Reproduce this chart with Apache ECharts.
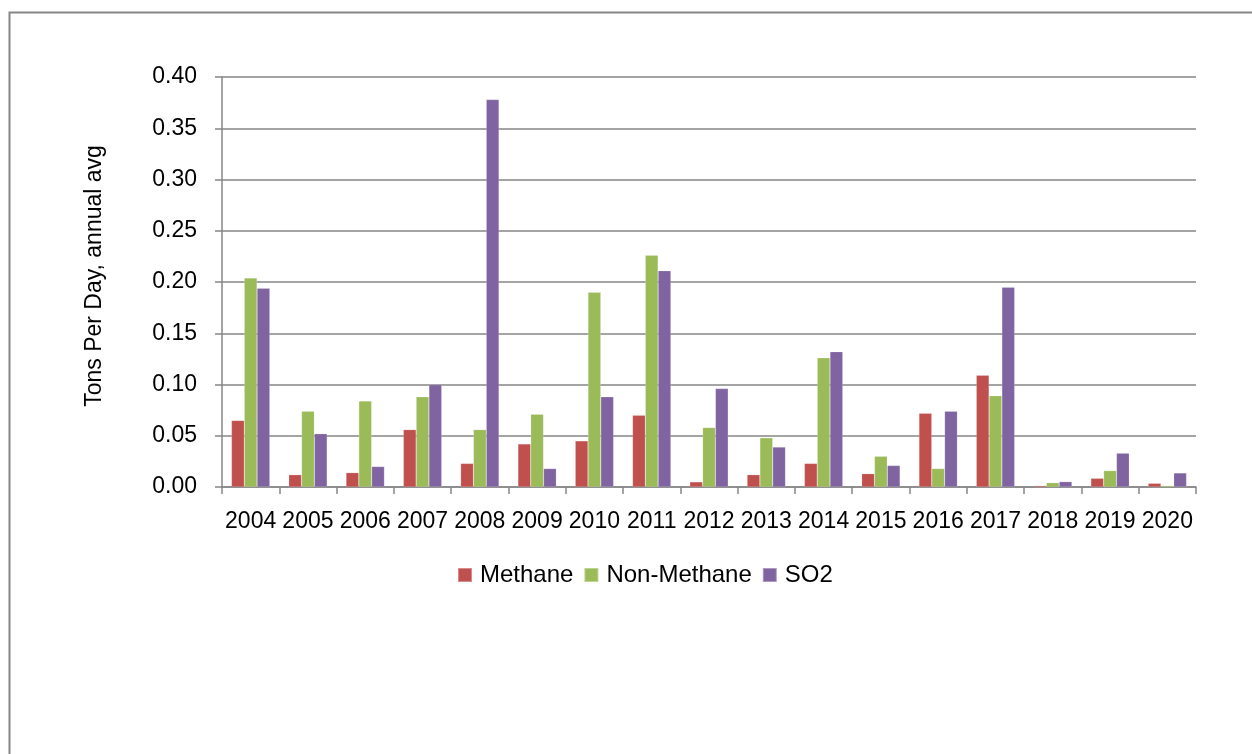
<!DOCTYPE html>
<html>
<head>
<meta charset="utf-8">
<script src="https://cdn.jsdelivr.net/npm/echarts@6/dist/echarts.min.js"></script>
<style>
html,body{margin:0;padding:0;background:#fff;}
#chart{width:1252px;height:754px;}
</style>
</head>
<body>
<div id="chart"></div>
<script>
var years = ['2004','2005','2006','2007','2008','2009','2010','2011','2012','2013','2014','2015','2016','2017','2018','2019','2020'];
var methane    = [0.065, 0.012, 0.014, 0.056, 0.023, 0.042, 0.045, 0.070, 0.005, 0.012, 0.023, 0.013, 0.072, 0.109, 0.0013, 0.0085, 0.0036];
var nonMethane = [0.204, 0.074, 0.084, 0.088, 0.056, 0.071, 0.190, 0.226, 0.058, 0.048, 0.126, 0.030, 0.018, 0.089, 0.0042, 0.016, 0.0013];
var so2        = [0.194, 0.052, 0.020, 0.100, 0.378, 0.018, 0.088, 0.211, 0.096, 0.039, 0.132, 0.021, 0.074, 0.195, 0.0052, 0.033, 0.0137];
var yTicks = ['0.00','0.05','0.10','0.15','0.20','0.25','0.30','0.35','0.40'];

var FONT = 'Liberation Sans';
var chart = echarts.init(document.getElementById('chart'));
function bar(name, data, color){
  return {
    name: name, type: 'bar', data: data,
    barGap: '0%', barCategoryGap: '33%',
    itemStyle: {color: color, borderColor: 'rgba(255,255,255,0.35)', borderWidth: 0.5},
    emphasis: {disabled: true}
  };
}
chart.setOption({
  animation: false,
  backgroundColor: '#fff',
  textStyle: {fontFamily: FONT},
  graphic: [{
    type: 'rect', left: 7, top: 10, silent: true,
    shape: {x: 0, y: 0, width: 1300, height: 800},
    style: {fill: 'none', stroke: '#868686', lineWidth: 2}
  }],
  grid: {left: 222, right: 56, top: 77, bottom: 267, containLabel: false},
  legend: {
    data: ['Methane','Non-Methane','SO2'],
    left: 452, top: 558,
    itemWidth: 14, itemHeight: 14, itemGap: 10,
    icon: 'rect',
    textStyle: {fontFamily: FONT, fontSize: 24, color: '#000', padding: [0,0,0,3]}
  },
  xAxis: {
    type: 'category', data: years, boundaryGap: true,
    axisLine: {show: true, lineStyle: {color: '#868686', width: 1.5}},
    axisTick: {show: true, length: 7, lineStyle: {color: '#868686', width: 1.5}, alignWithLabel: false},
    axisLabel: {interval: 0, margin: 23, fontFamily: FONT, fontSize: 23, color: '#000'},
    splitLine: {show: false}
  },
  yAxis: {
    type: 'value', min: 0, max: 0.4, interval: 0.05,
    name: 'Tons Per Day, annual avg', nameLocation: 'middle', nameGap: 116,
    nameTextStyle: {fontFamily: FONT, fontSize: 23, color: '#000', padding: [0,0,0,12]},
    axisLine: {show: true, lineStyle: {color: '#868686', width: 1.5}},
    axisTick: {show: true, length: 7, lineStyle: {color: '#868686', width: 1.5}},
    axisLabel: {margin: 25, fontFamily: FONT, fontSize: 23, color: '#000',
      formatter: function(v){ return yTicks[Math.round(v/0.05)]; }},
    splitLine: {show: true, lineStyle: {color: '#868686', width: 1.5}}
  },
  series: [
    bar('Methane', methane, '#C0504D'),
    bar('Non-Methane', nonMethane, '#9BBB59'),
    bar('SO2', so2, '#8064A2')
  ]
});
</script>
</body>
</html>
